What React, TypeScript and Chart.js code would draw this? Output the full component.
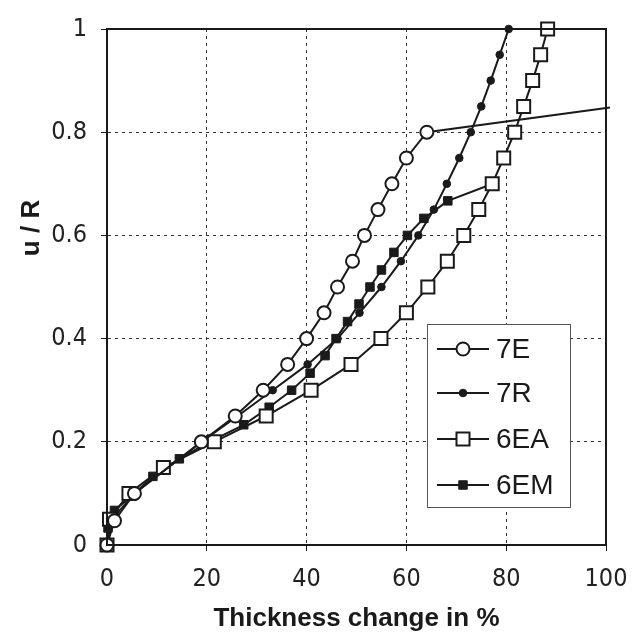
import React, { useEffect, useRef } from "react";
import { Chart, registerables } from "chart.js";

Chart.register(...registerables);

const x7E = [0, 1.5, 5.5, 18.9, 25.7, 31.3, 36.2, 40, 43.5, 46.2, 49.2, 51.6, 54.3, 57.1, 60, 64.1, 100.8];
const y7E = [0, 0.047, 0.1, 0.2, 0.25, 0.3, 0.35, 0.4, 0.45, 0.5, 0.55, 0.6, 0.65, 0.7, 0.75, 0.8, 0.848];

const x7R = [0, 1, 5.5, 19, 26.2, 33.2, 40.2, 46.2, 50.6, 55, 58.9, 62.4, 65.5, 68.1, 70.6, 72.9, 75, 76.9, 78.7, 80.5];
const y7R = [0, 0.05, 0.1, 0.2, 0.25, 0.3, 0.35, 0.4, 0.45, 0.5, 0.55, 0.6, 0.65, 0.7, 0.75, 0.8, 0.85, 0.9, 0.95, 1.0];

const x6EA = [0, 0.5, 4.4, 11.3, 21.5, 31.9, 40.9, 48.9, 54.9, 60, 64.3, 68.2, 71.5, 74.5, 77.2, 79.5, 81.7, 83.5, 85.3, 86.9, 88.3];
const y6EA = [0, 0.05, 0.1, 0.15, 0.2, 0.25, 0.3, 0.35, 0.4, 0.45, 0.5, 0.55, 0.6, 0.65, 0.7, 0.75, 0.8, 0.85, 0.9, 0.95, 1.0];

const x6EM = [0, 0.2, 1.5, 5.5, 9.2, 14.5, 20.5, 27.4, 32.5, 37, 40.7, 43.7, 45.9, 48.2, 50.5, 52.7, 55, 57.5, 60.2, 63.5, 68.3, 77.3];
const y6EM = [0, 0.033, 0.067, 0.1, 0.133, 0.167, 0.2, 0.233, 0.267, 0.3, 0.333, 0.367, 0.4, 0.433, 0.467, 0.5, 0.533, 0.567, 0.6, 0.633, 0.667, 0.7];

const seriesNames = ["7E", "7R", "6EA", "6EM"];
const xTickValues = [0, 20, 40, 60, 80, 100];
const yTickValues = [0, 0.2, 0.4, 0.6, 0.8, 1];
const xTitle = "Thickness change in %";
const yTitle = "u / R";

const INK = "#1a1a1a";
const TICK_FONT = "'Liberation Sans Narrow', 'DejaVu Sans Condensed', 'Liberation Sans', Arial, sans-serif";
const BOLD_FONT = "'Liberation Sans', Arial, sans-serif";

const toPts = (xs: number[], ys: number[]) => xs.map((x, i) => ({ x, y: ys[i] }));

const framePlugin = {
  id: "frame",
  afterDatasetsDraw(chart: any) {
    const { ctx, chartArea: a } = chart;
    ctx.save();
    ctx.strokeStyle = INK;
    ctx.lineWidth = 2;
    ctx.strokeRect(a.left, a.top, a.right - a.left, a.bottom - a.top);
    ctx.restore();
  },
};

const yTitlePlugin = {
  id: "yTitle",
  afterDraw(chart: any) {
    const { ctx } = chart;
    ctx.save();
    ctx.translate(32, 228);
    ctx.rotate(-Math.PI / 2);
    ctx.fillStyle = INK;
    ctx.font = "bold 26px " + BOLD_FONT;
    ctx.textAlign = "center";
    ctx.textBaseline = "middle";
    ctx.fillText(yTitle, 0, 0);
    ctx.restore();
  },
};

const legendPlugin = {
  id: "customLegend",
  afterDraw(chart: any) {
    const { ctx } = chart;
    const bx = 427, by = 324, bw = 143, bh = 183;
    ctx.save();
    ctx.fillStyle = "#ffffff";
    ctx.fillRect(bx, by, bw, bh);
    ctx.strokeStyle = "#555";
    ctx.lineWidth = 1;
    ctx.strokeRect(bx + 0.5, by + 0.5, bw, bh);
    const rows = [349, 393, 439, 485];
    chart.data.datasets.forEach((ds: any, i: number) => {
      const y = rows[i];
      ctx.strokeStyle = INK;
      ctx.lineWidth = 2;
      ctx.beginPath();
      ctx.moveTo(437, y);
      ctx.lineTo(489, y);
      ctx.stroke();
      const style = ds.pointStyle;
      const r = ds.pointRadius instanceof Array ? ds.pointRadius[1] : ds.pointRadius;
      ctx.fillStyle = ds.pointBackgroundColor;
      ctx.strokeStyle = INK;
      ctx.lineWidth = ds.pointBorderWidth;
      ctx.beginPath();
      if (style === "circle") {
        ctx.arc(463, y, r, 0, Math.PI * 2);
      } else {
        const s = Math.SQRT1_2 * r;
        ctx.rect(463 - s, y - s, 2 * s, 2 * s);
      }
      ctx.fill();
      ctx.stroke();
      ctx.fillStyle = INK;
      ctx.font = "28px 'Liberation Sans', Arial, sans-serif";
      ctx.textBaseline = "middle";
      ctx.textAlign = "left";
      ctx.fillText(ds.label, 496, y + 1);
    });
    ctx.restore();
  },
};

export default function App() {
  const ref = useRef<HTMLCanvasElement>(null);
  useEffect(() => {
    if (!ref.current) return;
    const base = {
      showLine: true,
      borderColor: INK,
      borderWidth: 2,
      pointBorderColor: INK,
      clip: false as any,
    };
    const r7E = x7E.map((_, i) => (i === x7E.length - 1 ? 0 : 6.5));
    const chart = new Chart(ref.current, {
      type: "scatter",
      data: {
        datasets: [
          { ...base, label: seriesNames[0], data: toPts(x7E, y7E), pointStyle: "circle", pointRadius: r7E, pointBackgroundColor: "#ffffff", pointBorderWidth: 2 },
          { ...base, label: seriesNames[1], data: toPts(x7R, y7R), pointStyle: "circle", pointRadius: 3.8, pointBackgroundColor: INK, pointBorderWidth: 1 },
          { ...base, label: seriesNames[2], data: toPts(x6EA, y6EA), pointStyle: "rect", pointRadius: 9.2, pointBackgroundColor: "#ffffff", pointBorderWidth: 2 },
          { ...base, label: seriesNames[3], data: toPts(x6EM, y6EM), pointStyle: "rect", pointRadius: 6, pointBackgroundColor: INK, pointBorderWidth: 1 },
        ] as any,
      },
      options: {
        animation: false,
        responsive: false,
        maintainAspectRatio: false,
        layout: { padding: { left: 0, right: 35, top: 15, bottom: 0 } },
        plugins: { legend: { display: false }, tooltip: { enabled: false } },
        scales: {
          x: {
            type: "linear",
            min: 0,
            max: 100,
            afterFit: (s: any) => { s.height = 98; },
            afterBuildTicks: (s: any) => { s.ticks = xTickValues.map((v) => ({ value: v })); },
            ticks: { color: "#222", font: { family: TICK_FONT, size: 25 }, padding: 13, maxRotation: 0 },
            grid: { color: "#333", lineWidth: 1, drawTicks: true, tickLength: 6, tickColor: INK, tickBorderDash: [] },
            border: { display: true, color: INK, width: 2, dash: [3, 4] },
            title: { display: true, text: xTitle, color: INK, font: { family: BOLD_FONT, size: 26, weight: "bold" }, padding: { top: 0, bottom: 9 } },
          },
          y: {
            type: "linear",
            min: 0,
            max: 1,
            afterFit: (s: any) => { s.width = 107; },
            afterBuildTicks: (s: any) => { s.ticks = yTickValues.map((v) => ({ value: v })); },
            ticks: { color: "#222", font: { family: TICK_FONT, size: 25 }, padding: 14, callback: (v: any) => String(v) },
            grid: { color: "#333", lineWidth: 1, drawTicks: true, tickLength: 6, tickColor: INK, tickBorderDash: [] },
            border: { display: true, color: INK, width: 2, dash: [3, 4] },
            title: { display: false },
          },
        },
      } as any,
      plugins: [framePlugin, yTitlePlugin, legendPlugin],
    });
    return () => chart.destroy();
  }, []);
  return (
    <div style={{ position: "absolute", left: 0, top: 0, width: 641, height: 643, background: "#fff" }}>
      <canvas ref={ref} width={641} height={643} style={{ width: 641, height: 643, display: "block" }} />
    </div>
  );
}
